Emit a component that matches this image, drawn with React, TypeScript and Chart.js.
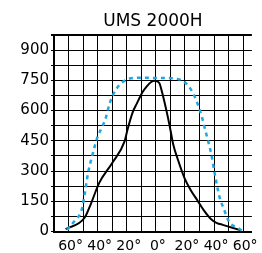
import React, { useEffect, useRef } from "react";
import { Chart, registerables } from "chart.js";

Chart.register(...registerables);

const titleText = "UMS 2000H";

// Black solid curve (angle in degrees, intensity)
const blackAngles = [-62, -49, -44.5, -39, -30, -21.5, -19.5, -16, -13, -9, -6.5, -3, -1, 1, 2.5, 4.5, 7.7, 10, 12, 15, 19.7, 24, 28.4, 33, 38, 42, 46, 52, 58];
const blackValues = [12, 68, 140, 240, 340, 447, 505, 590, 636, 693, 718, 743, 748, 745, 735, 685, 586, 505, 430, 360, 265, 205, 156, 105, 61, 42, 33, 20, 7];

// Blue dotted curve
const blueAngles = [-61, -55.4, -51, -48.8, -46.6, -43.3, -40, -37.2, -34.9, -31.7, -29.5, -25.2, -20.8, -15, -8, 0, 10, 14, 17.5, 21.9, 26.2, 30.6, 32.8, 33.9, 38.2, 40.4, 43.7, 47, 50.3, 56.8, 60];
const blueValues = [8, 57, 107, 190, 290, 388, 471, 515, 553, 636, 677, 726, 751, 762, 763, 762, 761, 758, 751, 726, 677, 594, 537, 505, 380, 290, 173, 107, 49, 16, 0];

const xMin = -70;
const xMax = 66;
const xStep = 10;
const xLabelEvery = 20;
const yMin = 0;
const yMax = 975;
const yStep = 75;
const yLabelEvery = 150;

const CANVAS_W = 262;
const CANVAS_H = 253;

export default function App() {
  const ref = useRef<HTMLCanvasElement>(null);

  useEffect(() => {
    if (!ref.current) return;
    const font = "'DejaVu Sans', sans-serif";
    const chart = new Chart(ref.current, {
      type: "line",
      data: {
        datasets: [
          {
            data: blueAngles.map((x, i) => ({ x, y: blueValues[i] })),
            borderColor: "#1fa7e1",
            borderWidth: 2.5,
            borderDash: [4, 4],
            pointRadius: 0,
            cubicInterpolationMode: "monotone",
            fill: false,
          },
          {
            data: blackAngles.map((x, i) => ({ x, y: blackValues[i] })),
            borderColor: "#000000",
            borderWidth: 2,
            pointRadius: 0,
            cubicInterpolationMode: "monotone",
            fill: false,
          },
        ],
      },
      options: {
        responsive: false,
        animation: false,
        layout: { padding: { left: 0, right: 1, top: 0, bottom: 0 } },
        plugins: {
          legend: { display: false },
          tooltip: { enabled: false },
          title: {
            display: true,
            fullSize: false,
            text: titleText,
            color: "#000",
            font: { family: font, size: 17, weight: "normal" },
            padding: { top: 11, bottom: 3.6 },
          },
        },
        scales: {
          x: {
            type: "linear",
            min: xMin,
            max: xMax,
            afterFit: (s: any) => {
              s.height = 21.5;
            },
            ticks: {
              stepSize: xStep,
              includeBounds: false,
              autoSkip: false,
              maxRotation: 0,
              minRotation: 0,
              color: "#000",
              font: { family: font, size: 14 },
              padding: 6,
              labelOffset: 2,
              callback: (v: any) => (Number(v) % xLabelEvery === 0 ? Math.abs(Number(v)) + "°" : ""),
            },
            grid: {
              color: "#000",
              lineWidth: 1,
              drawTicks: false,
            },
            border: { color: "#000", width: 2 },
          },
          y: {
            min: yMin,
            max: yMax,
            afterFit: (s: any) => {
              s.width = 54;
            },
            ticks: {
              stepSize: yStep,
              autoSkip: false,
              color: "#000",
              font: { family: font, size: 15 },
              padding: 2,
              callback: (v: any) => (Number(v) % yLabelEvery === 0 ? String(v) : ""),
            },
            grid: {
              color: "#000",
              lineWidth: (c: any) => (c.tick && c.tick.value === yMax ? 2 : 1),
              drawTicks: true,
              tickLength: 3,
            },
            border: { color: "#000", width: 2 },
          },
        },
      },
    });
    return () => chart.destroy();
  }, []);

  return (
    <div style={{ position: "fixed", left: 0, top: 0, width: 262, height: 253, overflow: "hidden", background: "#fff" }}>
      <canvas ref={ref} width={CANVAS_W} height={CANVAS_H} style={{ display: "block" }} />
    </div>
  );
}
